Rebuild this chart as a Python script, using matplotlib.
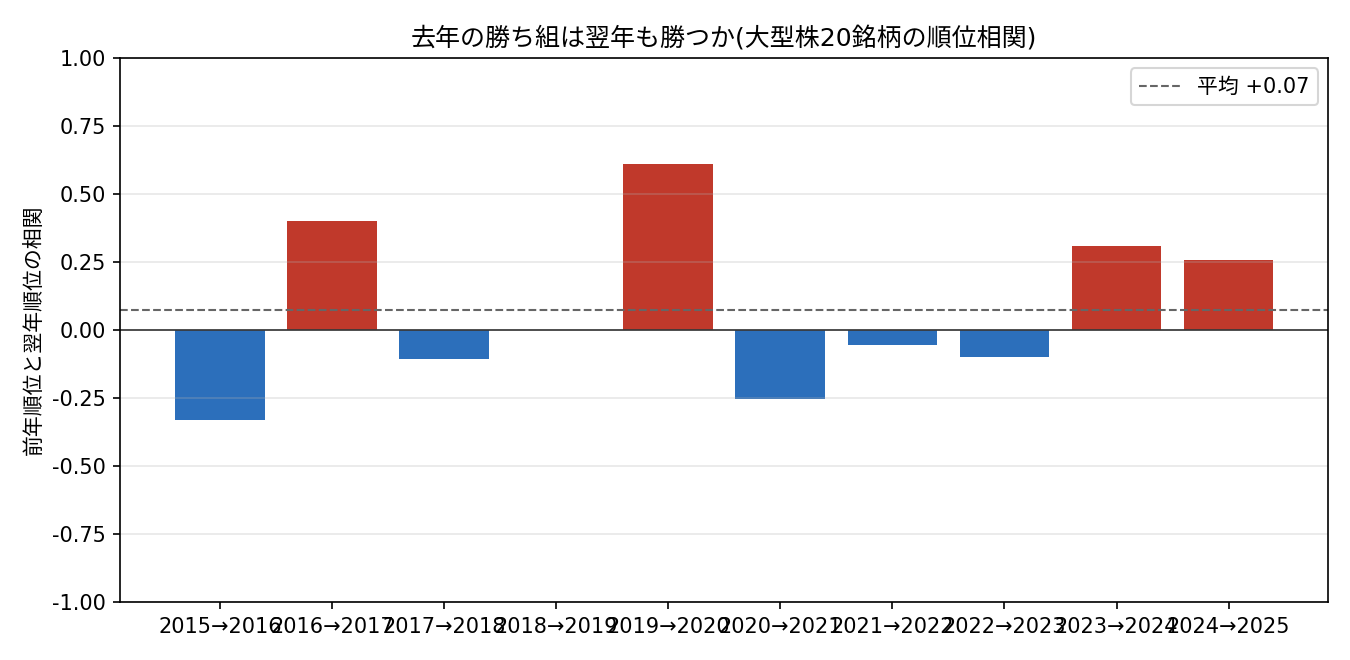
import matplotlib
matplotlib.use("Agg")
import matplotlib.pyplot as plt
import numpy as np

plt.rcParams['font.family'] = ['DejaVu Sans', 'Noto Sans CJK JP']

periods = ["2015→2016", "2016→2017", "2017→2018", "2018→2019", "2019→2020",
           "2020→2021", "2021→2022", "2022→2023", "2023→2024", "2024→2025"]
corr = [-0.331, 0.400, -0.107, 0.0, 0.610, -0.252, -0.055, -0.099, 0.309, 0.257]

mean_corr = np.mean(corr)
colors = ['#c0392b' if v > 0 else '#2c6fbb' for v in corr]

fig, ax = plt.subplots(figsize=(9, 4.4), dpi=150)
fig.subplots_adjust(left=0.089, right=0.984, top=0.912, bottom=0.088)

x = np.arange(len(periods))
ax.bar(x, corr, color=colors, width=0.8)
ax.axhline(0, color='#333333', linewidth=0.8)
ax.axhline(mean_corr, color='#666666', linestyle='--', linewidth=1,
           label=f'平均 {mean_corr:+.2f}')

ax.set_xticks(x)
ax.set_xticklabels(periods)
ax.set_ylim(-1, 1)
ticks = np.arange(-1, 1.01, 0.25)
ax.set_yticks(ticks)
ax.set_yticklabels([f'{v:.2f}' for v in ticks])
ax.grid(axis='y', alpha=0.3)
ax.set_ylabel('前年順位と翌年順位の相関')
ax.set_title('去年の勝ち組は翌年も勝つか(大型株20銘柄の順位相関)')
ax.legend(loc='upper right')

fig.savefig('out.png', dpi=150)
